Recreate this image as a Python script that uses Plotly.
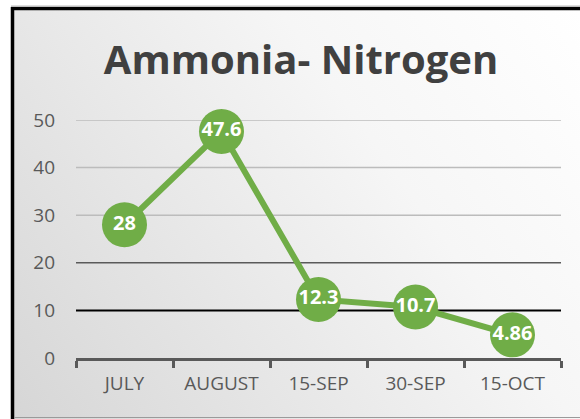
import plotly.graph_objects as go

categories = ["JULY", "AUGUST", "15-SEP", "30-SEP", "15-OCT"]
values = [28, 47.6, 12.3, 10.7, 4.86]
labels = ["28", "47.6", "12.3", "10.7", "4.86"]
y_ticks = [0, 10, 20, 30, 40, 50]

W, H = 580, 419
L, R, T, B = 76, 19, 120, 61
PW, PH = W - L - R, H - T - B


def px2x(px):
    return (px - L) / PW


def py2y(py):
    return (H - B - py) / PH


GREEN = "#70ad47"
TXT = "#595959"

fig = go.Figure()
fig.add_trace(
    go.Scatter(
        x=categories,
        y=values,
        mode="lines+markers+text",
        text=labels,
        textposition="middle center",
        textfont=dict(family="Open Sans", size=20, color="white", weight="bold"),
        line=dict(color=GREEN, width=6),
        marker=dict(color=GREEN, size=45, line=dict(width=0)),
        cliponaxis=False,
        hoverinfo="skip",
    )
)

grid_style = {10: ("#000000", 2), 20: ("#5a5a5a", 1.5)}
shapes = []
for v in y_ticks[1:]:
    c, w = grid_style.get(v, ("#bcbcbc", 1.5))
    shapes.append(dict(type="line", xref="x domain", yref="y", x0=0, x1=1, y0=v, y1=v,
                       line=dict(color=c, width=w), layer="below"))

shapes += [
    # outer frame
    dict(type="line", xref="paper", yref="paper", x0=px2x(12.5), x1=px2x(12.5),
         y0=py2y(7), y1=py2y(419), line=dict(color="black", width=3.5)),
    dict(type="line", xref="paper", yref="paper", x0=px2x(11), x1=px2x(600),
         y0=py2y(8.5), y1=py2y(8.5), line=dict(color="black", width=3.5)),
    dict(type="line", xref="paper", yref="paper", x0=px2x(11), x1=px2x(600),
         y0=py2y(6), y1=py2y(6), line=dict(color="#bdbdbd", width=1)),
    dict(type="line", xref="paper", yref="paper", x0=px2x(14), x1=px2x(600),
         y0=py2y(417.5), y1=py2y(417.5), line=dict(color="#9a9a9a", width=1)),
]

fig.update_layout(
    width=W,
    height=H,
    margin=dict(l=L, r=R, t=T, b=B, pad=0),
    paper_bgcolor="#ffffff",
    plot_bgcolor="rgba(0,0,0,0)",
    showlegend=False,
    title=dict(
        text="Ammonia- Nitrogen",
        font=dict(family="Open Sans", size=40, color="#404040", weight="bold"),
        xref="container", yref="container",
        x=301 / W, xanchor="center",
        y=1 - 60 / H, yanchor="middle",
    ),
    shapes=shapes,
    xaxis=dict(
        type="category",
        range=[-0.5, len(categories) - 0.5],
        showgrid=False,
        showline=True,
        linecolor=TXT,
        linewidth=3,
        ticks="outside",
        tickson="boundaries",
        ticklen=7,
        tickwidth=3,
        tickcolor=TXT,
        tickfont=dict(family="Open Sans", size=19, color=TXT),
        ticklabelstandoff=6,
        zeroline=False,
        fixedrange=True,
    ),
    yaxis=dict(
        range=[0, 50],
        tickvals=y_ticks,
        showgrid=False,
        showline=False,
        zeroline=False,
        ticks="",
        tickfont=dict(family="Open Sans", size=19, color=TXT),
        ticklabelstandoff=20,
        fixedrange=True,
    ),
)

# diagonal background gradient of the chart area (top-right white -> bottom-left grey)
js = """
document.documentElement.style.margin='0px';
document.body.style.margin='0px';
document.body.style.overflow='hidden';
document.documentElement.style.overflow='hidden';
(function(){
  var ns='http://www.w3.org/2000/svg';
  var svg=document.querySelector('.main-svg');
  if(!svg) return;
  var defs=svg.querySelector('defs');
  if(!defs){defs=document.createElementNS(ns,'defs');svg.insertBefore(defs,svg.firstChild);}
  var lg=document.createElementNS(ns,'linearGradient');
  lg.setAttribute('id','bggrad');
  lg.setAttribute('gradientUnits','userSpaceOnUse');
  lg.setAttribute('x1','580');lg.setAttribute('y1','10');
  lg.setAttribute('x2','14');lg.setAttribute('y2','417');
  [[0,'#ffffff'],[0.35,'#f6f6f6'],[1,'#d6d6d6']].forEach(function(s){
    var st=document.createElementNS(ns,'stop');
    st.setAttribute('offset',s[0]);st.setAttribute('stop-color',s[1]);
    lg.appendChild(st);
  });
  defs.appendChild(lg);
  var r=document.createElementNS(ns,'rect');
  r.setAttribute('x','14');r.setAttribute('y','10');
  r.setAttribute('width','600');r.setAttribute('height','420');
  r.setAttribute('fill','url(#bggrad)');
  var bg=svg.querySelector('rect.bg');
  if(bg){bg.parentNode.insertBefore(r,bg.nextSibling);}else{svg.insertBefore(r,defs.nextSibling);}
})();
"""

fig.write_html(
    "out.html",
    config={"displayModeBar": False},
    post_script=js,
)
